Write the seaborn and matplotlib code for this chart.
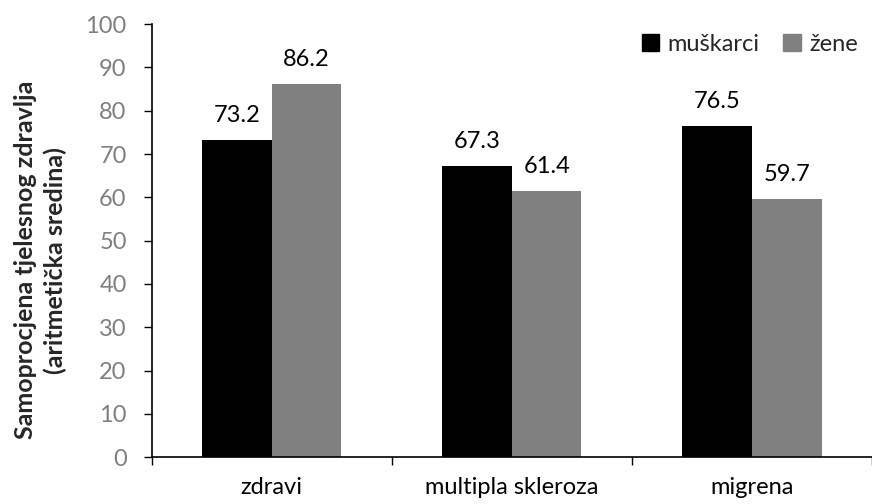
import numpy as np
import pandas as pd
import matplotlib
matplotlib.use("Agg")
import matplotlib.pyplot as plt
import seaborn as sns
from matplotlib.patches import Patch

# data
groups = ['zdravi', 'multipla skleroza', 'migrena']
muskarci = [73.2, 67.3, 76.5]
zene = [86.2, 61.4, 59.7]
series = ['muškarci', 'žene']

df = pd.DataFrame({
    'grupa': groups * 2,
    'spol': [series[0]] * 3 + [series[1]] * 3,
    'vrijednost': muskarci + zene,
})

sns.set_style('white')
plt.rcParams['font.family'] = ['Lato', 'DejaVu Sans']
fs = 17

fig = plt.figure(figsize=(8.72, 5.04), dpi=100)
ax = fig.add_axes([0.174, 0.093, 0.826, 0.859])

colors = ['#000000', '#808080']
sns.barplot(data=df, x='grupa', y='vrijednost', hue='spol', palette=colors,
            width=0.58, gap=0, saturation=1, linewidth=0, ax=ax, legend=False)

for cont in ax.containers:
    ax.bar_label(cont, fmt='%.1f', padding=10, fontsize=fs, color='black')

ax.set_xlim(-0.5, 2.5)
ax.set_ylim(0, 100)
ax.set_yticks(np.arange(0, 101, 10))
ax.tick_params(axis='y', labelsize=fs, labelcolor='#7f7f7f', direction='out',
               length=6, width=1, color='black', left=True, pad=12)
ax.tick_params(axis='x', which='major', labelsize=fs, labelcolor='black',
               length=0, pad=14)
ax.set_xticks([-0.5, 0.5, 1.5, 2.5], minor=True)
ax.tick_params(axis='x', which='minor', direction='out', length=6, width=1,
               color='black', bottom=True)

for s in ['top', 'right']:
    ax.spines[s].set_visible(False)
for s in ['left', 'bottom']:
    ax.spines[s].set_color('black')
    ax.spines[s].set_linewidth(1.2)

ax.set_xlabel('')
ax.set_ylabel('Samoprocjena tjelesnog zdravlja\n(aritmetička sredina)',
              fontsize=18, fontweight='bold', linespacing=1.3)
ax.yaxis.set_label_coords(-0.118, 0.455)

handles = [Patch(facecolor=c, edgecolor=c) for c in colors]
ax.legend(handles, series, ncol=2, frameon=False, fontsize=fs,
          loc='upper right', bbox_to_anchor=(1.0, 1.01),
          handlelength=0.75, handleheight=0.75, handletextpad=0.35,
          columnspacing=1.0, borderaxespad=0.2)

fig.savefig('out.png', dpi=100)
